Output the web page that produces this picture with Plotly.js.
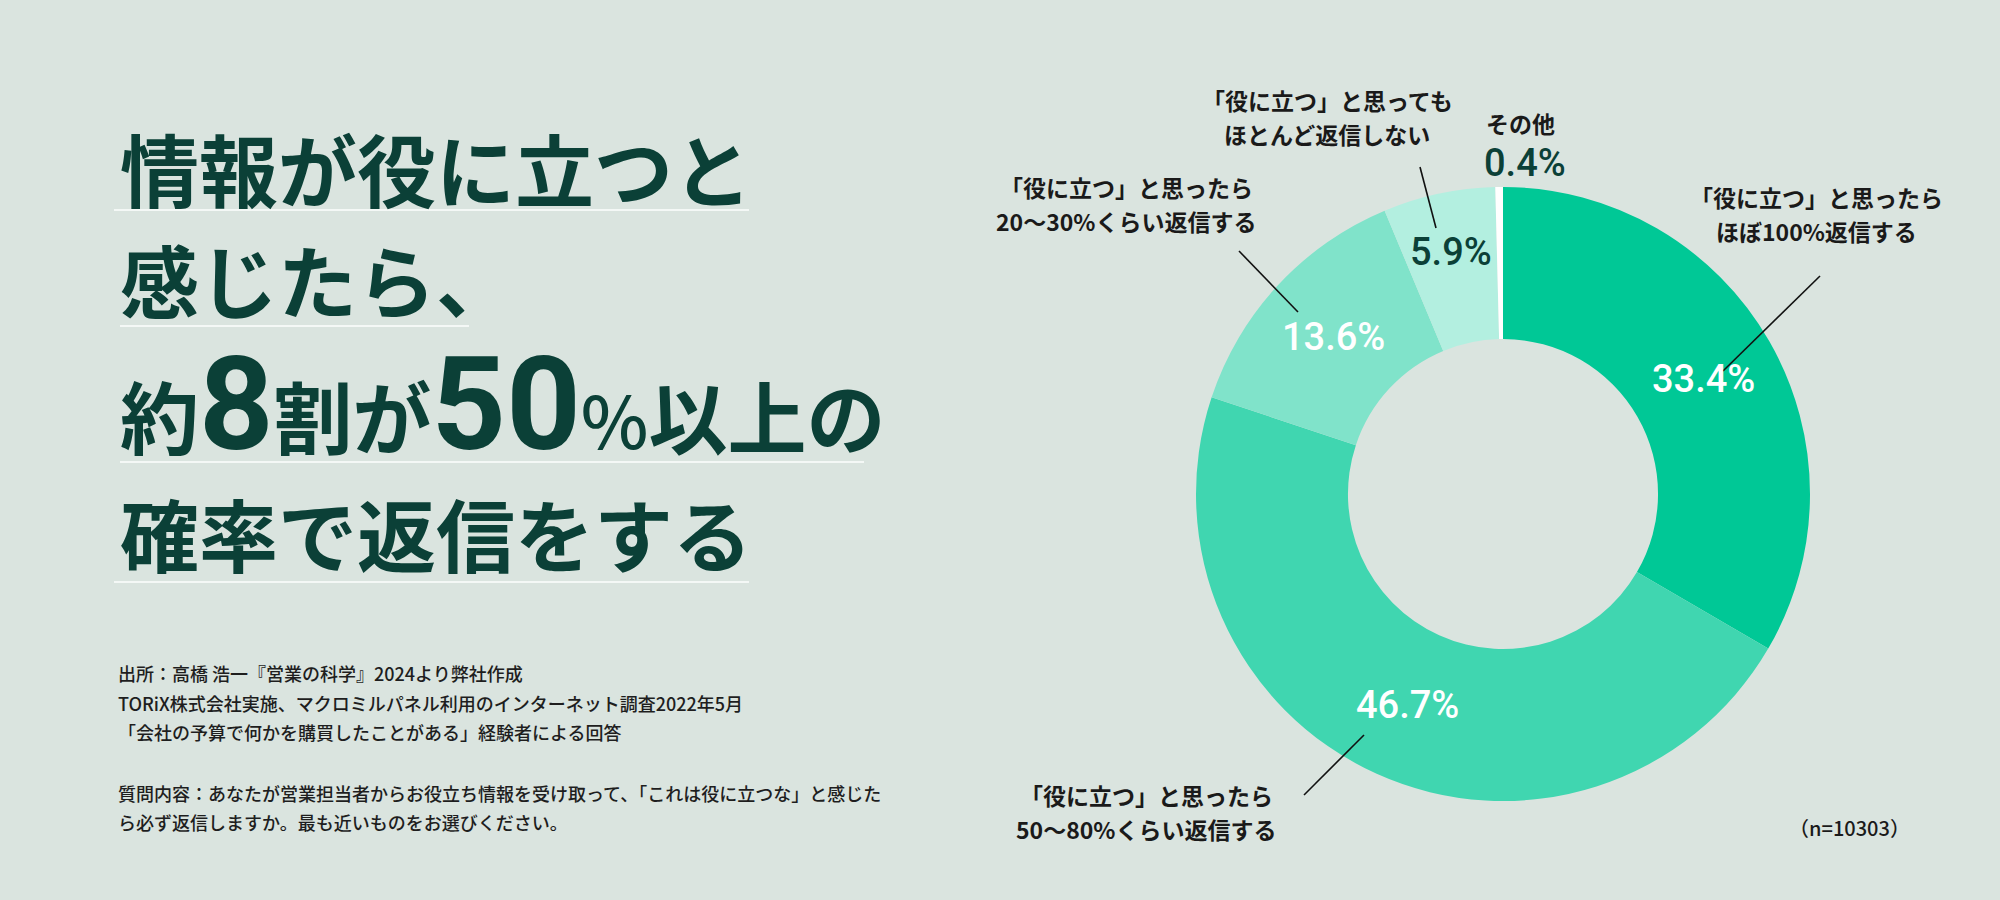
<!DOCTYPE html>
<html>
<head>
<meta charset="utf-8">
<script src="https://cdn.plot.ly/plotly-3.0.1.min.js"></script>
<style>
  html, body { margin: 0; padding: 0; background: #dae4df; }
  #chart { width: 2000px; height: 900px; }
</style>
</head>
<body>
<div id="chart"></div>
<script>
// ---------------- data ----------------
const categories = [
  '「役に立つ」と思ったら<br>ほぼ100%返信する',
  '「役に立つ」と思ったら<br>50〜80%くらい返信する',
  '「役に立つ」と思ったら<br>20〜30%くらい返信する',
  '「役に立つ」と思っても<br>ほとんど返信しない',
  'その他'
];
const values = [33.4, 46.7, 13.6, 5.9, 0.4];
const sampleNote = '（n=10303）';

const titleLines = [
  '情報が役に立つと',
  '感じたら、',
  '約<span style="font-family:Roboto;font-size:130px;font-weight:700">8</span>割が<span style="font-family:Roboto;font-size:130px;font-weight:700">50</span><span style="font-size:72px;font-weight:500">%</span>以上の',
  '確率で返信をする'
];
const sourceLines = [
  '出所：高橋 浩一『営業の科学』2024より弊社作成',
  'TORiX株式会社実施、マクロミルパネル利用のインターネット調査2022年5月',
  '「会社の予算で何かを購買したことがある」経験者による回答',
  '質問内容：あなたが営業担当者からお役立ち情報を受け取って、「これは役に立つな」と感じた',
  'ら必ず返信しますか。最も近いものをお選びください。'
];

// ---------------- styles / layout helpers ----------------
const W = 2000, H = 900;
const fx = x => x / W;
const fy = y => 1 - y / H;
const cx = 1503, cy = 494, R = 307, HOLE = 0.505;
const sliceColors = ['#00c896', '#40d6b0', '#80e3ca', '#b3efe0', '#ffffff'];
const pctColors = ['#ffffff', '#ffffff', '#ffffff', '#0b4037', '#0b4037'];
const DARK = '#0b4037';
const JP = '"Noto Sans CJK JP", "Noto Sans", sans-serif';

const annotations = [];
const shapes = [];

// title
const titleY = [167, 278, 404, 532];
const underline = [[114, 749, 210], [120, 469, 326], [120, 864, 462], [114, 749, 582]];
titleLines.forEach((t, i) => {
  annotations.push({
    text: t, xref: 'paper', yref: 'paper', x: fx(118), y: fy(titleY[i]),
    xanchor: 'left', yanchor: 'middle', align: 'left', showarrow: false,
    font: { family: JP, size: 79, color: DARK, weight: 700 }
  });
  const u = underline[i];
  shapes.push({ type: 'line', xref: 'paper', yref: 'paper',
    x0: fx(u[0]), x1: fx(u[1]), y0: fy(u[2]), y1: fy(u[2]),
    line: { color: '#f4f8f6', width: 2 } });
});

// source notes
const srcY = [673, 703, 732, 793, 822];
sourceLines.forEach((t, i) => {
  annotations.push({
    text: t, xref: 'paper', yref: 'paper', x: fx(116), y: fy(srcY[i]),
    xanchor: 'left', yanchor: 'middle', align: 'left', showarrow: false,
    font: { family: JP, size: 18, color: '#1e1e1e', weight: 500 }
  });
});

// percentage labels computed from data geometry
const total = values.reduce((a, b) => a + b, 0);
const rMid = R * (1 + HOLE) / 2;
let cum = 0;
values.forEach((v, i) => {
  const a = (cum + v / 2) / total * 2 * Math.PI;
  cum += v;
  let x, y;
  if (v / total < 0.02) { // tiny slice: label outside above
    x = cx + 22; y = cy - R - 24;
  } else {
    const r = v / total < 0.08 ? rMid + 16 : rMid;
    x = cx + r * Math.sin(a);
    y = cy - r * Math.cos(a);
  }
  annotations.push({
    text: v.toFixed(1) + '%', xref: 'paper', yref: 'paper', x: fx(x), y: fy(y),
    xanchor: 'center', yanchor: 'middle', showarrow: false,
    font: { family: 'Roboto, sans-serif', size: 38, color: pctColors[i], weight: 500 }
  });
});

// category labels (positions on page) and leader lines
const labelPos = [[1816, 197], [1146, 795], [1126, 187], [1327, 100], [1520, 123]];
const leaders = [
  [1820, 276, 1723, 371],
  [1364, 735, 1304, 795],
  [1239, 251, 1298, 312],
  [1420, 167, 1436, 228]
];
categories.forEach((c, i) => {
  c.split('<br>').forEach((line, j) => {
    annotations.push({
      text: line, xref: 'paper', yref: 'paper',
      x: fx(labelPos[i][0]), y: fy(labelPos[i][1] + j * 34),
      xanchor: 'center', yanchor: 'middle', showarrow: false,
      font: { family: JP, size: 23, color: '#1a1a1a', weight: 700 }
    });
  });
});
leaders.forEach(l => {
  shapes.push({ type: 'line', xref: 'paper', yref: 'paper',
    x0: fx(l[0]), y0: fy(l[1]), x1: fx(l[2]), y1: fy(l[3]),
    line: { color: '#111111', width: 1.6 } });
});

annotations.push({
  text: sampleNote, xref: 'paper', yref: 'paper', x: fx(1849), y: fy(827),
  xanchor: 'center', yanchor: 'middle', showarrow: false,
  font: { family: JP, size: 20, color: '#1a1a1a', weight: 500 }
});

const trace = {
  type: 'pie',
  labels: categories,
  values: values,
  hole: HOLE,
  sort: false,
  direction: 'clockwise',
  rotation: 0,
  textinfo: 'none',
  hoverinfo: 'none',
  marker: { colors: sliceColors, line: { width: 0 } },
  domain: { x: [fx(cx - R), fx(cx + R)], y: [fy(cy + R), fy(cy - R)] },
  showlegend: false
};

const layout = {
  width: W, height: H, autosize: false,
  margin: { l: 0, r: 0, t: 0, b: 0 },
  paper_bgcolor: '#dae4df', plot_bgcolor: '#dae4df',
  showlegend: false,
  annotations: annotations,
  shapes: shapes
};

Plotly.newPlot('chart', [trace], layout, { displayModeBar: false, staticPlot: true });
</script>
</body>
</html>
